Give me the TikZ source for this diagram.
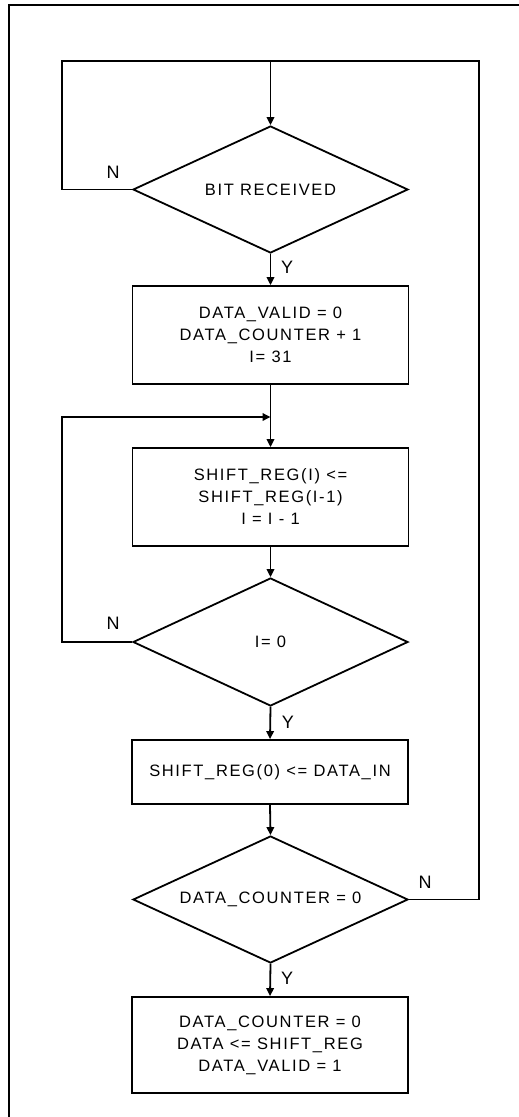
\documentclass[tikz,border=0pt]{standalone}
\usepackage{fontspec}
\setmainfont{Liberation Sans}[LetterSpace=10]
\usetikzlibrary{shapes.geometric,arrows.meta}
\begin{document}
\begin{tikzpicture}[x=1pt,y=-1pt,line width=1.8pt,
  txt/.style={font=\fontsize{16.5}{22}\selectfont},
  box/.style={draw,rectangle,txt,minimum width=276pt,inner sep=0pt,align=center},
  decision/.style={draw,diamond,txt,aspect=2.17,minimum width=275pt,minimum height=127pt,inner sep=0pt},
  flow/.style={-{Triangle[width=7.5pt,length=8pt]}},
  lbl/.style={font=\fontsize{18}{20}\selectfont,inner sep=0pt}]
  \useasboundingbox (0,0) rectangle (519,1117);
  % page frame (left and top edges)
  \draw (9,1117) -- (9,5) -- (519,5);

  % nodes
  \node[decision] (d1) at (270.5,189.5) {BIT RECEIVED};
  \node[box,minimum height=98pt] (b1) at (270.5,335) {DATA\_VALID = 0\\DATA\_COUNTER + 1\\I= 31};
  \node[box,minimum height=98pt] (b2) at (270.5,497) {SHIFT\_REG(I) <=\\SHIFT\_REG(I-1)\\I = I - 1};
  \node[decision,minimum height=128pt] (d2) at (270.5,642) {I= 0};
  \node[box,minimum height=64pt] (b3) at (270,772) {SHIFT\_REG(0) <= DATA\_IN};
  \node[decision] (d3) at (270.5,899.5) {DATA\_COUNTER = 0};
  \node[box,minimum height=96pt] (b4) at (270,1045) {DATA\_COUNTER = 0\\DATA <= SHIFT\_REG\\DATA\_VALID = 1};

  % junctions and loop corners
  \coordinate (top) at (270.5,61);
  \coordinate (tl) at (62,61);
  \coordinate (tr) at (479,61);
  \coordinate (j2) at (270.5,417);
  \coordinate (ml) at (62,417);

  % connectors
  \draw[flow] (top) -- (d1.north);
  \draw (d1.west) -| (tl) -- (top);
  \draw (d3.east) -| (tr) -- (top);
  \draw[flow] (d1.south) -- (b1.north);
  \draw[flow] (b1.south) -- (b2.north);
  \draw[flow] (d2.west) -| (ml) -- (j2);
  \draw[flow] (b2.south) -- (d2.north);
  \draw[flow] (d2.south) -- (b3.north);
  \draw[flow] (b3.south) -- (d3.north);
  \draw[flow] (d3.south) -- (b4.north);

  % branch labels
  \node[lbl] (n1) at (113,172) {N};
  \node[lbl] (y1) at (287,267) {Y};
  \node[lbl] (n2) at (113,623) {N};
  \node[lbl] (y2) at (288,722) {Y};
  \node[lbl] (n3) at (425,882) {N};
  \node[lbl] (y3) at (287,978) {Y};
\end{tikzpicture}
\end{document}
